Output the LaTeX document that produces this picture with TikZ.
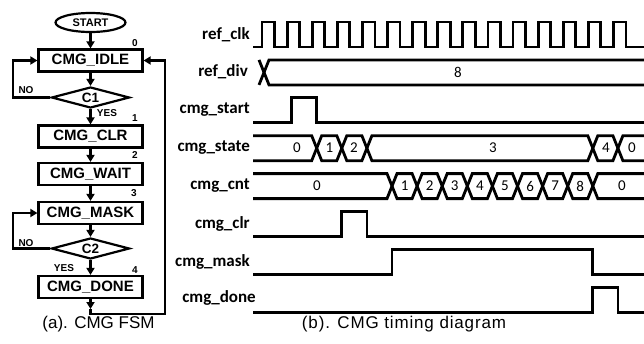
\documentclass[tikz,border=0pt]{standalone}
\usepackage{fontspec}
\setmainfont{Liberation Sans}
\newfontfamily\sigfont{Carlito}
\usetikzlibrary{shapes.geometric,arrows.meta}
\newcommand\hexseg[4]{%
  \draw[sig] ({#1},{(#3+#4)/2}) -- ({#1+5},{#3}) -- ({#2-5},{#3}) -- ({#2},{(#3+#4)/2}) -- ({#2-5},{#4}) -- ({#1+5},{#4}) -- cycle;}
\newcommand\leftseg[3]{%
  \draw[sig] (253,{#2}) -- ({#1-5},{#2}) -- ({#1},{(#2+#3)/2}) -- ({#1-5},{#3}) -- (253,{#3});}
\newcommand\rightseg[3]{%
  \draw[sig] (644,{#2}) -- ({#1+5},{#2}) -- ({#1},{(#2+#3)/2}) -- ({#1+5},{#3}) -- (644,{#3});}
\begin{document}
\begin{tikzpicture}[x=1pt,y=-1pt,
  fsmbox/.style={draw, line width=2.2pt, minimum width=104pt, minimum height=22pt, inner sep=0pt,
    font=\fontsize{15}{16}\selectfont\bfseries},
  dec/.style={draw, diamond, line width=2.2pt, minimum width=78pt, minimum height=21pt, inner sep=0pt,
    aspect=3.7, font=\fontsize{13.5}{14}\selectfont\bfseries},
  oval/.style={draw, ellipse, line width=2.2pt, minimum width=70pt, minimum height=19pt, inner sep=0pt,
    font=\fontsize{11}{12}\selectfont\bfseries},
  arr/.style={line width=2.2pt, -{Triangle[width=8pt,length=7pt]}},
  num/.style={font=\fontsize{10}{12}\selectfont\bfseries, inner sep=0pt},
  sig/.style={line width=2.8pt},
  sname/.style={anchor=east, inner sep=0pt, font=\sigfont\fontsize{17}{19}\selectfont\bfseries},
  val/.style={inner sep=0pt, font=\sigfont\fontsize{15}{17}\selectfont},
  captext/.style={inner sep=0pt, font=\fontsize{17}{19}\selectfont}]
\useasboundingbox (0,0) rectangle (644,343);

% ---------------- FSM ----------------
\node[oval] (start) at (90.5,22.5) {START};
\node[fsmbox] (idle) at (90.5,60.5) {CMG\_IDLE};
\node[dec] (c1) at (90.5,97.5) {C1};
\node[fsmbox] (clr) at (90.5,136.5) {CMG\_CLR};
\node[fsmbox] (wait) at (90.5,174) {CMG\_WAIT};
\node[fsmbox] (mask) at (90.5,213) {CMG\_MASK};
\node[dec] (c2) at (90.5,248.5) {C2};
\node[fsmbox] (done) at (90.5,287) {CMG\_DONE};

\draw[arr] (start) -- (idle);
\draw[arr] (idle) -- (c1);
\draw[arr] (c1) -- (clr);
\draw[arr] (clr) -- (wait);
\draw[arr] (wait) -- (mask);
\draw[arr] (mask) -- (c2);
\draw[arr] (c2) -- (done);

\coordinate (l1) at (13,97.5);
\coordinate (l2) at (13,248.5);
\draw[arr] (c1.west) -- (l1) |- (idle.west);
\draw[arr] (c2.west) -- (l2) |- (mask.west);

\coordinate (rm) at (90.5,309);
\coordinate (r0) at (90.5,314);
\coordinate (r1) at (165,314);
\draw[arr] (done.south) -- (rm);
\draw[arr] (rm) -- (r0) -- (r1) |- (idle.east);

\node[num] (n0) at (135,43) {0};
\node[num] (n1) at (135,118) {1};
\node[num] (n2) at (135,155) {2};
\node[num] (n3) at (134,193) {3};
\node[num] (n4) at (135,270) {4};
\node[num] (no1) at (26,90) {NO};
\node[num] (no2) at (26,243) {NO};
\node[num] (yes1) at (107,113) {YES};
\node[num] (yes2) at (64,268) {YES};

\node[captext] (capa) at (98.5,324) {(a). CMG FSM};
\node[captext] (capb) at (404,324) {\addfontfeature{LetterSpace=5}(b). CMG timing diagram};

% ---------------- Timing ----------------
\node[sname] (s0) at (250,35) {ref\_clk};
\node[sname] (s1) at (248,72) {ref\_div};
\node[sname] (s2) at (250,110) {cmg\_start};
\node[sname] (s3) at (250,148) {cmg\_state};
\node[sname] (s4) at (250,186) {cmg\_cnt};
\node[sname] (s5) at (250,224) {cmg\_clr};
\node[sname] (s6) at (250,262) {cmg\_mask};
\node[sname] (s7) at (256,298) {cmg\_done};

% ref_clk
\draw[sig] (253,47) \foreach \k in {0,...,14} {
  -- ({262+25.1*\k},47) -- ({262+25.1*\k},22) -- ({274.55+25.1*\k},22) -- ({274.55+25.1*\k},47) }
  -- (644,47);

% ref_div
\draw[sig] (259,59.9) -- (264,72.4) -- (259,84.9);
\rightseg{264}{59.9}{84.9}
\node[val] (v8) at (458,72) {8};

% cmg_start
\draw[sig] (253,122.8) -- (291.6,122.8) -- (291.6,97.8) -- (316.7,97.8) -- (316.7,122.8) -- (644,122.8);

% cmg_state
\leftseg{316.7}{135.7}{160.7}
\hexseg{316.7}{341.8}{135.7}{160.7}
\hexseg{341.8}{366.9}{135.7}{160.7}
\hexseg{366.9}{592.8}{135.7}{160.7}
\hexseg{592.8}{617.9}{135.7}{160.7}
\rightseg{617.9}{135.7}{160.7}
\node[val] (st0) at (297,148) {0};
\node[val] (st1) at (329.5,148) {1};
\node[val] (st2) at (354,148) {2};
\node[val] (st3) at (493,148) {3};
\node[val] (st4) at (606,148) {4};
\node[val] (st5) at (632,148) {0};

% cmg_cnt
\leftseg{392}{173.6}{198.6}
\foreach \i in {1,...,8} {
  \hexseg{392+25.1*(\i-1)}{392+25.1*\i}{173.6}{198.6}
  \node[val] (c\i) at ({392+25.1*(\i-0.5)},186) {\i};
}
\rightseg{592.8}{173.6}{198.6}
\node[val] (cn0) at (317,186) {0};
\node[val] (cn9) at (622,186) {0};

% cmg_clr
\draw[sig] (253,236.5) -- (341.8,236.5) -- (341.8,211.5) -- (366.9,211.5) -- (366.9,236.5) -- (644,236.5);
% cmg_mask
\draw[sig] (253,274.4) -- (392,274.4) -- (392,249.4) -- (592.8,249.4) -- (592.8,274.4) -- (644,274.4);
% cmg_done
\draw[sig] (253,312.3) -- (592.8,312.3) -- (592.8,287.3) -- (617.9,287.3) -- (617.9,312.3) -- (644,312.3);
\end{tikzpicture}
\end{document}
